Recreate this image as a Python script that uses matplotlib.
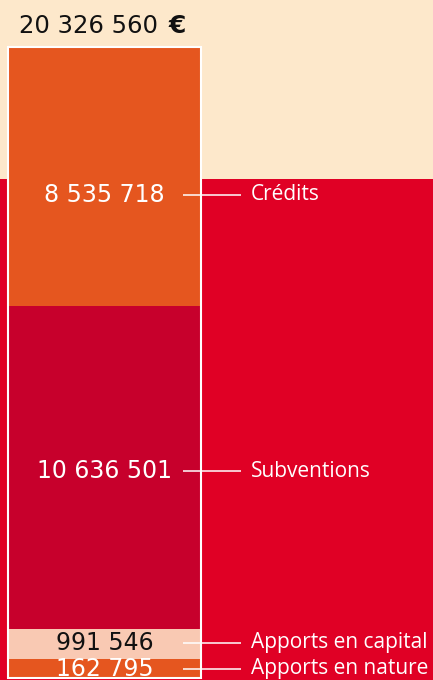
import matplotlib
matplotlib.use("Agg")
import matplotlib.pyplot as plt
from matplotlib.patches import Rectangle

# Data
categories = ["Crédits", "Subventions", "Apports en capital", "Apports en nature"]
values = [8535718, 10636501, 991546, 162795]
value_labels = ["8 535 718", "10 636 501", "991 546", "162 795"]
total_label = "20 326 560"
currency = "€"

# Styles
seg_colors = ["#E5561F", "#C7002C", "#F9C9B3", "#E5561F"]
text_colors = ["white", "white", "#111111", "white"]
label_frac = [0.43, 0.49, 0.55, 0.5]   # vertical anchor inside each segment (from bottom)
CREAM = "#FDE8CB"
RED = "#E00025"
NUM_FONT = ['DejaVu Sans']
LAB_FONT = ['Open Sans', 'DejaVu Sans']

plt.rcParams['font.family'] = LAB_FONT

W, H = 433, 680
fig = plt.figure(figsize=(W / 100, H / 100), dpi=100)
fig.patch.set_facecolor(RED)
fig.patches.append(Rectangle((0, 1 - 179 / H), 1, 179 / H, transform=fig.transFigure,
                             facecolor=CREAM, edgecolor="none", zorder=-5))

ax = fig.add_axes([0, 2 / H, 1, 631 / H])
ax.set_zorder(2)
ax.set_axis_off()
ax.patch.set_alpha(0)

total = sum(values)
# small segments get a minimum visible height
floor = 0.03 * total
disp = [max(v, floor) for v in values]
scale = total / sum(disp)
disp = [d * scale for d in disp]

ax.set_xlim(0, W)
ax.set_ylim(0, total)

bar_x0, bar_x1 = 8, 201
cx = (bar_x0 + bar_x1) / 2
top = total
for cat, d, col, lab, tc, fr in zip(categories, disp, seg_colors, value_labels, text_colors, label_frac):
    bottom = top - d
    ax.bar(cx, d, width=bar_x1 - bar_x0, bottom=bottom, color=col, edgecolor="none", zorder=2)
    ly = bottom + d * fr
    ax.text(cx, ly, lab, ha="center", va="center", fontsize=17, color=tc, zorder=4,
            family=NUM_FONT)
    ax.plot([183, 241], [ly, ly], color="white", lw=1.1, zorder=3, solid_capstyle="butt")
    ax.text(251, ly, cat, ha="left", va="center", fontsize=15, color="white", zorder=4)
    top = bottom

# white outline around the stack
ax.add_patch(Rectangle((bar_x0, 0), bar_x1 - bar_x0, total, facecolor="none",
                       edgecolor="white", lw=1.5, zorder=5, clip_on=False))

ty = 1 - 26 / H
t = fig.text(19 / W, ty, total_label, ha="left", va="center", fontsize=17.5,
             color="#111111", family=NUM_FONT)
fig.canvas.draw()
bb = t.get_window_extent(renderer=fig.canvas.get_renderer())
fig.text((bb.x1 + 11) / W, ty, currency, ha="left", va="center", fontsize=18,
         fontweight="bold", color="#111111", family=NUM_FONT)

fig.savefig("out.png", dpi=100, facecolor=fig.get_facecolor())
